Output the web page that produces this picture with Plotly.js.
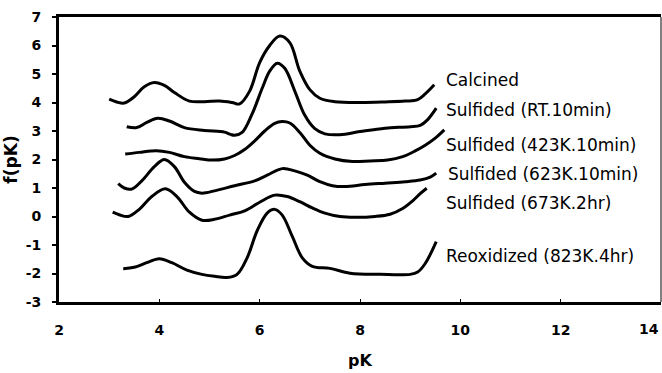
<!DOCTYPE html>
<html>
<head>
<meta charset="utf-8">
<script src="https://cdn.plot.ly/plotly-3.0.1.min.js"></script>
<style>html,body{margin:0;padding:0;background:#fff;}#chart{width:662px;height:373px;}</style>
</head>
<body>
<div id="chart"></div>
<script>
// ---- data ----
const seriesNames = ["Calcined", "Sulfided (RT.10min)", "Sulfided (423K.10min)",
  "Sulfided (623K.10min)", "Sulfided (673K.2hr)", "Reoxidized (823K.4hr)"];

const calcinedX = [3.0, 3.15, 3.3, 3.5, 3.7, 3.9, 4.1, 4.3, 4.6, 4.9, 5.2, 5.45, 5.6, 5.8, 6.0, 6.2, 6.4, 6.6, 6.8, 7.0, 7.2, 7.5, 8.0, 8.5, 8.9, 9.15, 9.3, 9.48];
const calcinedY = [4.12, 4.02, 3.98, 4.2, 4.55, 4.70, 4.6, 4.35, 4.05, 4.03, 4.05, 4.0, 3.95, 4.4, 5.4, 6.0, 6.33, 6.1, 5.1, 4.45, 4.15, 4.03, 4.0, 4.02, 4.05, 4.1, 4.3, 4.62];

const rtX = [3.35, 3.55, 3.75, 3.97, 4.2, 4.5, 4.9, 5.3, 5.42, 5.5, 5.65, 5.85, 6.05, 6.2, 6.35, 6.5, 6.7, 6.9, 7.1, 7.3, 7.6, 8.0, 8.5, 9.0, 9.2, 9.35, 9.52];
const rtY = [3.15, 3.12, 3.3, 3.45, 3.35, 3.12, 3.02, 2.96, 2.88, 2.85, 2.95, 3.6, 4.5, 5.1, 5.38, 5.2, 4.4, 3.55, 3.08, 2.9, 2.87, 2.98, 3.1, 3.15, 3.2, 3.4, 3.8];

const k423X = [3.32, 3.6, 3.94, 4.2, 4.5, 4.8, 5.05, 5.3, 5.5, 5.7, 5.9, 6.1, 6.3, 6.45, 6.6, 6.8, 7.0, 7.2, 7.5, 7.85, 8.2, 8.55, 8.85, 9.1, 9.3, 9.5, 9.68];
const k423Y = [2.19, 2.25, 2.31, 2.25, 2.1, 2.03, 1.98, 2.02, 2.14, 2.35, 2.65, 3.0, 3.27, 3.33, 3.28, 2.95, 2.5, 2.22, 2.02, 1.93, 1.95, 1.98, 2.1, 2.3, 2.5, 2.75, 3.04];

const k623X = [3.18, 3.3, 3.45, 3.65, 3.9, 4.1, 4.3, 4.5, 4.7, 4.85, 5.1, 5.5, 5.9, 6.15, 6.45, 6.7, 6.95, 7.2, 7.45, 7.7, 8.1, 8.5, 8.9, 9.2, 9.4, 9.52];
const k623Y = [1.15, 1.0, 0.96, 1.25, 1.75, 2.0, 1.75, 1.2, 0.88, 0.82, 0.9, 1.08, 1.25, 1.45, 1.68, 1.6, 1.45, 1.22, 1.08, 1.05, 1.12, 1.17, 1.22, 1.28, 1.38, 1.52];

const k673X = [3.07, 3.2, 3.38, 3.6, 3.85, 4.12, 4.35, 4.6, 4.85, 5.1, 5.4, 5.7, 6.0, 6.3, 6.55, 6.8, 7.05, 7.3, 7.6, 7.9, 8.3, 8.6, 8.85, 9.05, 9.2, 9.33];
const k673Y = [0.15, 0.06, 0.0, 0.25, 0.7, 0.97, 0.7, 0.15, -0.13, -0.1, 0.05, 0.2, 0.5, 0.75, 0.7, 0.52, 0.3, 0.12, 0.0, -0.03, 0.0, 0.08, 0.28, 0.55, 0.8, 0.99];

const reoxX = [3.28, 3.5, 3.75, 4.0, 4.25, 4.55, 4.85, 5.1, 5.35, 5.55, 5.75, 5.95, 6.15, 6.3, 6.45, 6.65, 6.85, 7.05, 7.4, 7.8, 8.4, 9.0, 9.15, 9.3, 9.52];
const reoxY = [-1.83, -1.78, -1.62, -1.48, -1.62, -1.88, -2.03, -2.1, -2.14, -2.03, -1.45, -0.5, 0.12, 0.25, 0.05, -0.7, -1.45, -1.75, -1.82, -1.99, -2.03, -2.03, -1.95, -1.65, -0.88];

const xTicks = [2, 4, 6, 8, 10, 12, 14];
const yTicks = [-3, -2, -1, 0, 1, 2, 3, 4, 5, 6, 7];

// ---- build chart ----
const xs = [calcinedX, rtX, k423X, k623X, k673X, reoxX];
const ys = [calcinedY, rtY, k423Y, k623Y, k673Y, reoxY];

const traces = xs.map((x, i) => ({
  x: x, y: ys[i], name: seriesNames[i], type: "scatter", mode: "lines",
  line: {color: "#000", width: 3, shape: "spline", smoothing: 1},
  hoverinfo: "skip"
}));

const tickFont = {family: "DejaVu Sans", size: 14, weight: "bold", color: "#000"};

// series labels: just right of each curve's end
const labelDy = [0.17, -0.06, -0.53, -0.03, -0.53, -0.51];
const annotations = seriesNames.map((t, i) => {
  const y = ys[i];
  return {
    x: 9.68, y: y[y.length - 1] + labelDy[i], xref: "x", yref: "y",
    text: t, showarrow: false, xanchor: "left", yanchor: "middle",
    font: {family: "DejaVu Sans", size: 17, color: "#000"}
  };
});
annotations[3].x = 9.72;

// last x tick label sits at the right edge of the page: draw it right-aligned so it stays visible
const lastTick = xTicks[xTicks.length - 1];
annotations.push({
  x: lastTick, y: 0, xref: "x", yref: "paper", text: String(lastTick),
  showarrow: false, xanchor: "right", yanchor: "middle", yshift: -27,
  font: tickFont
});

const layout = {
  width: 662, height: 373,
  margin: {l: 59, r: 1, t: 17, b: 71},
  paper_bgcolor: "#fff", plot_bgcolor: "#fff",
  showlegend: false,
  font: {family: "DejaVu Sans", color: "#000"},
  xaxis: {
    range: [2, 14], tickvals: xTicks,
    ticktext: xTicks.map((v, i) => i === xTicks.length - 1 ? "" : String(v)),
    showgrid: false, zeroline: false,
    showline: true, linewidth: 3, linecolor: "#000", mirror: true,
    ticks: "inside", ticklen: 3, tickwidth: 1, tickcolor: "#000",
    tickfont: tickFont,
    ticklabelstandoff: 13,
    title: {text: "pK", font: {family: "DejaVu Sans", size: 16, weight: "bold"}, standoff: 19},
    automargin: false, fixedrange: true
  },
  yaxis: {
    range: [-3, 7], tickvals: yTicks, ticktext: yTicks.map(String),
    showgrid: false, zeroline: false,
    showline: true, linewidth: 3, linecolor: "#000", mirror: false,
    ticks: "outside", ticklen: 4, tickwidth: 2, tickcolor: "#000",
    tickfont: tickFont,
    ticklabelstandoff: 8,
    title: {text: "f(pK)", font: {family: "DejaVu Sans", size: 17, weight: "bold"}, standoff: 4},
    automargin: false, fixedrange: true
  },
  shapes: [{type: "line", xref: "paper", yref: "paper", x0: 1, x1: 1, y0: 0, y1: 1,
            line: {color: "#000", width: 1}}],
  annotations: annotations
};

Plotly.newPlot("chart", traces, layout, {displayModeBar: false, staticPlot: true});
</script>
</body>
</html>
